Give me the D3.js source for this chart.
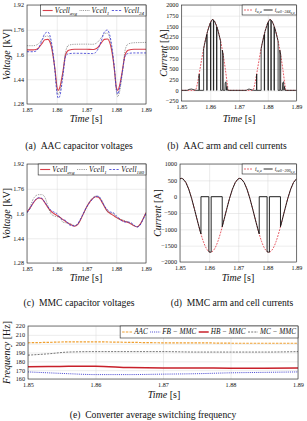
<!DOCTYPE html>
<html>
<head>
<meta charset="utf-8">
<script src="https://cdn.jsdelivr.net/npm/d3@7"></script>
<style>
  body { margin: 0; background: #fff; }
  svg text { font-family: "Liberation Serif", "DejaVu Serif", serif; fill: #111; }
</style>
</head>
<body>
<div class="figure"></div>
<script>
// ---- data ----
const xTicks = [1.85, 1.86, 1.87, 1.88, 1.89];

// (a) AAC capacitor voltages [kV]
const aTime = [1.850, 1.852, 1.853, 1.854, 1.855, 1.856, 1.857, 1.858, 1.859, 1.8595, 1.860, 1.8605, 1.861, 1.862, 1.863, 1.864, 1.866, 1.870,
               1.872, 1.873, 1.874, 1.875, 1.876, 1.877, 1.878, 1.879, 1.8795, 1.880, 1.8805, 1.881, 1.882, 1.883, 1.884, 1.886, 1.890];
const aVavg = [1.630, 1.630, 1.632, 1.645, 1.670, 1.695, 1.698, 1.665, 1.560, 1.490, 1.400, 1.368, 1.385, 1.480, 1.600, 1.628, 1.634, 1.634,
               1.632, 1.636, 1.650, 1.675, 1.698, 1.700, 1.665, 1.560, 1.480, 1.390, 1.368, 1.390, 1.490, 1.600, 1.628, 1.634, 1.634];
const aV1   = [1.657, 1.657, 1.660, 1.672, 1.695, 1.715, 1.720, 1.680, 1.560, 1.480, 1.380, 1.342, 1.360, 1.470, 1.620, 1.660, 1.666, 1.667,
               1.666, 1.670, 1.685, 1.710, 1.735, 1.738, 1.690, 1.570, 1.480, 1.370, 1.328, 1.350, 1.470, 1.630, 1.668, 1.676, 1.678];
const aV24  = [1.618, 1.618, 1.622, 1.645, 1.690, 1.735, 1.745, 1.700, 1.570, 1.470, 1.360, 1.318, 1.330, 1.450, 1.590, 1.605, 1.608, 1.607,
               1.606, 1.612, 1.640, 1.690, 1.745, 1.758, 1.710, 1.580, 1.490, 1.380, 1.345, 1.370, 1.480, 1.590, 1.607, 1.610, 1.610];
const voltTicks = [1.28, 1.44, 1.6, 1.76, 1.92];

// (b) AAC arm and cell currents [A]
const bArm = [[1.850, 0], [1.8548, 0], [1.8555, 150], [1.856, 330], [1.857, 720], [1.858, 1080], [1.859, 1370], [1.860, 1580], [1.8607, 1660],
              [1.8615, 1620], [1.8625, 1450], [1.8635, 1180], [1.8645, 830], [1.8652, 520], [1.866, 120], [1.8663, 0],
              [1.8748, 0], [1.8755, 150], [1.876, 330], [1.877, 720], [1.878, 1080], [1.879, 1370], [1.880, 1580], [1.8807, 1660],
              [1.8815, 1620], [1.8825, 1450], [1.8835, 1180], [1.8845, 830], [1.8852, 520], [1.886, 120], [1.8863, 0], [1.890, 0]];
const bCell = [[1.850, 0], [1.852, 0], [1.8525, 20], [1.8535, 30], [1.8545, 10], [1.855, 0],
               [1.8561, 0], [1.8561, 360], [1.8562, 380], [1.8562, 0],
               [1.8577, 0], [1.8577, 970], [1.858, 1080], [1.8588, 1310], [1.8588, 0], [1.8589, 0], [1.8589, 1330], [1.859, 1370],
               [1.860, 1580], [1.8601, 1590], [1.8601, 0], [1.8602, 0], [1.8602, 1600], [1.8607, 1660], [1.8611, 1650], [1.8611, 0],
               [1.8612, 0], [1.8612, 1640], [1.8615, 1620], [1.8622, 1505], [1.8622, 0], [1.8623, 0], [1.8623, 1480], [1.8625, 1450],
               [1.8635, 1180], [1.8636, 1150], [1.8636, 0],
               [1.8642, 0], [1.8642, 940], [1.8645, 830], [1.8645, 0],
               [1.8651, 0], [1.8652, 180], [1.8655, 200], [1.8656, 0], [1.8658, 90], [1.866, 0],
               [1.8725, 0], [1.873, 20], [1.8735, 30], [1.8745, 10], [1.875, 0],
               [1.8761, 0], [1.8761, 360], [1.8762, 380], [1.8762, 0],
               [1.8777, 0], [1.8777, 970], [1.878, 1080], [1.8788, 1310], [1.8788, 0], [1.8789, 0], [1.8789, 1330], [1.879, 1370],
               [1.880, 1580], [1.8801, 1590], [1.8801, 0], [1.8802, 0], [1.8802, 1600], [1.8807, 1660], [1.8811, 1650], [1.8811, 0],
               [1.8812, 0], [1.8812, 1640], [1.8815, 1620], [1.8822, 1505], [1.8822, 0], [1.8823, 0], [1.8823, 1480], [1.8825, 1450],
               [1.8835, 1180], [1.8836, 1150], [1.8836, 0],
               [1.8842, 0], [1.8842, 940], [1.8845, 830], [1.8845, 0],
               [1.8851, 0], [1.8852, 180], [1.8855, 200], [1.8856, 0], [1.8858, 90], [1.886, 0], [1.890, 0]];
const bTicks = [-250, 0, 250, 500, 750, 1000, 1250, 1500, 1750, 2000];

// (c) MMC capacitor voltages [kV]
const cTime = [1.850, 1.851, 1.852, 1.853, 1.854, 1.855, 1.856, 1.857, 1.858, 1.859, 1.860, 1.861, 1.862, 1.863, 1.864, 1.865, 1.866, 1.867, 1.868, 1.869, 1.870,
               1.871, 1.872, 1.873, 1.874, 1.875, 1.876, 1.877, 1.878, 1.879, 1.880, 1.881, 1.882, 1.883, 1.884, 1.885, 1.886, 1.887, 1.888, 1.889, 1.890];
const cVavg = [1.610, 1.635, 1.665, 1.690, 1.700, 1.695, 1.670, 1.640, 1.615, 1.600, 1.588, 1.576, 1.562, 1.548, 1.535, 1.525, 1.518, 1.528, 1.560, 1.600, 1.640,
               1.672, 1.695, 1.708, 1.705, 1.680, 1.645, 1.615, 1.600, 1.588, 1.575, 1.565, 1.555, 1.548, 1.542, 1.532, 1.520, 1.514, 1.530, 1.565, 1.605];
const cV1   = [1.605, 1.640, 1.690, 1.715, 1.722, 1.722, 1.705, 1.650, 1.600, 1.585, 1.580, 1.578, 1.545, 1.540, 1.538, 1.530, 1.522, 1.530, 1.562, 1.600, 1.640,
               1.675, 1.700, 1.712, 1.710, 1.690, 1.650, 1.612, 1.605, 1.600, 1.578, 1.562, 1.560, 1.552, 1.545, 1.535, 1.522, 1.515, 1.528, 1.565, 1.605];
const cV180 = [1.605, 1.632, 1.668, 1.692, 1.702, 1.698, 1.672, 1.645, 1.622, 1.610, 1.600, 1.575, 1.560, 1.555, 1.530, 1.522, 1.520, 1.532, 1.565, 1.603, 1.640,
               1.670, 1.692, 1.710, 1.712, 1.685, 1.650, 1.625, 1.610, 1.605, 1.585, 1.570, 1.550, 1.545, 1.545, 1.540, 1.525, 1.512, 1.525, 1.560, 1.600];

// (d) MMC arm and cell currents [A]
const dArm = [[1.850, 546], [1.8505, 560], [1.851, 546], [1.852, 437], [1.853, 229], [1.854, -57], [1.855, -394], [1.856, -746], [1.857, -1083],
              [1.858, -1369], [1.859, -1577], [1.860, -1686], [1.8605, -1700], [1.861, -1686], [1.862, -1577], [1.863, -1369], [1.864, -1083],
              [1.865, -746], [1.866, -394], [1.867, -57], [1.868, 229], [1.869, 437], [1.870, 546], [1.8705, 560], [1.871, 546], [1.872, 437],
              [1.873, 229], [1.874, -57], [1.875, -394], [1.876, -746], [1.877, -1083], [1.878, -1369], [1.879, -1577], [1.880, -1686],
              [1.8805, -1700], [1.881, -1686], [1.882, -1577], [1.883, -1369], [1.884, -1083], [1.885, -746], [1.886, -394], [1.887, -57],
              [1.888, 229], [1.889, 437], [1.890, 546]];
const dCell = [[1.850, 546], [1.8505, 560], [1.851, 546], [1.852, 437], [1.853, 229], [1.854, -57], [1.855, -394], [1.856, -746], [1.857, -1083],
               [1.8572, -1140], [1.8572, 0], [1.8599, 0], [1.8599, -1690], [1.8605, -1700], [1.8607, -1698], [1.8607, 0], [1.8645, 0], [1.8645, -920],
               [1.865, -746], [1.866, -394], [1.867, -57], [1.868, 229], [1.869, 437], [1.870, 546], [1.8705, 560], [1.871, 546], [1.872, 437],
               [1.873, 229], [1.874, -57], [1.875, -394], [1.876, -746], [1.877, -1083], [1.8772, -1140], [1.8772, 0], [1.8799, 0], [1.8799, -1690],
               [1.8805, -1700], [1.8807, -1698], [1.8807, 0], [1.8845, 0], [1.8845, -920], [1.885, -746], [1.886, -394], [1.887, -57],
               [1.888, 229], [1.889, 437], [1.890, 546]];
const dTicks = [-2000, -1500, -1000, -500, 0, 500, 1000];

// (e) converter average switching frequency [Hz]
const eTime  = [1.850, 1.853, 1.856, 1.860, 1.865, 1.870, 1.875, 1.880, 1.885, 1.890];
const eAAC   = [201.0, 201.5, 202.0, 202.0, 201.5, 201.0, 201.0, 200.5, 200.5, 200.5];
const eFB    = [168.0, 167.0, 166.0, 165.0, 165.0, 165.5, 166.0, 167.0, 167.5, 168.0];
const eHB    = [174.0, 174.2, 174.3, 174.5, 173.0, 172.5, 172.5, 172.3, 172.3, 172.5];
const eMC    = [187.0, 188.5, 190.5, 191.0, 191.0, 191.0, 190.5, 190.5, 190.5, 191.0];
const eTicks = [160, 170, 180, 190, 200, 210, 220];

// ---- drawing ----
const width = 307;
const height = 421;
const serif = '"Liberation Serif", "DejaVu Serif", serif';
const svg = d3.select('.figure')
    .append('svg')
    .attr('width', width)
    .attr('height', height)
    .attr('font-family', serif);

const zip = (t, v) => t.map((d, i) => [d, v[i]]);

// text made of italic / upright parts with sub and sub-sub scripts
function richText(sel, parts, size) {
  const shifts = [0, size * 0.25, size * 0.42];
  const scale = [1, 0.68, 0.55];
  let level = 0;
  parts.forEach(p => {
    const lv = p.sub || 0;
    sel.append('tspan')
        .attr('dy', shifts[lv] - shifts[level])
        .attr('font-size', size * scale[lv])
        .attr('font-style', p.it ? 'italic' : 'normal')
        .text(p.t);
    level = lv;
  });
}

let clipId = 0;

function drawPanel(cfg) {
  const b = cfg.box;
  const x = d3.scaleLinear().domain([1.85, 1.89]).range([b.x0, b.x1]);
  const y = d3.scaleLinear().domain(cfg.yDomain).range([b.y1, b.y0]);
  const g = svg.append('g');

  // grid lines
  g.append('g')
      .attr('transform', `translate(0,${b.y1})`)
      .call(d3.axisBottom(x).tickValues(xTicks).tickSize(-(b.y1 - b.y0)).tickFormat(''))
      .call(s => s.select('.domain').remove())
      .call(s => s.selectAll('line').attr('stroke', '#d8d8d8').attr('stroke-width', 0.5));
  g.append('g')
      .attr('transform', `translate(${b.x0},0)`)
      .call(d3.axisLeft(y).tickValues(cfg.yTicks).tickSize(-(b.x1 - b.x0)).tickFormat(''))
      .call(s => s.select('.domain').remove())
      .call(s => s.selectAll('line').attr('stroke', '#d8d8d8').attr('stroke-width', 0.5));

  // tick labels
  g.append('g')
      .attr('transform', `translate(0,${b.y1})`)
      .call(d3.axisBottom(x).tickValues(xTicks).tickSize(0).tickPadding(4).tickFormat(d3.format('.2f')))
      .attr('font-family', serif)
      .call(s => s.select('.domain').remove())
      .call(s => s.selectAll('text').attr('font-size', 6.2));
  g.append('g')
      .attr('transform', `translate(${b.x0},0)`)
      .call(d3.axisLeft(y).tickValues(cfg.yTicks).tickSize(0).tickPadding(3).tickFormat(cfg.yFormat))
      .attr('font-family', serif)
      .call(s => s.select('.domain').remove())
      .call(s => s.selectAll('text').attr('font-size', 6.2));

  // series
  clipId += 1;
  g.append('clipPath').attr('id', 'clip' + clipId)
      .append('rect').attr('x', b.x0).attr('y', b.y0).attr('width', b.x1 - b.x0).attr('height', b.y1 - b.y0);
  const plot = g.append('g').attr('clip-path', `url(#clip${clipId})`);
  cfg.series.forEach(s => {
    const line = d3.line()
        .x(d => x(d[0]))
        .y(d => y(d[1]))
        .curve(s.smooth ? d3.curveMonotoneX : d3.curveLinear);
    plot.append('path')
        .attr('d', line(s.data))
        .attr('fill', 'none')
        .attr('stroke', s.color)
        .attr('stroke-width', s.width)
        .attr('stroke-dasharray', s.dash || null);
  });

  // frame
  g.append('rect')
      .attr('x', b.x0).attr('y', b.y0)
      .attr('width', b.x1 - b.x0).attr('height', b.y1 - b.y0)
      .attr('fill', 'none').attr('stroke', '#222').attr('stroke-width', 0.6);

  // axis labels
  const xl = g.append('text')
      .attr('x', cfg.xLabel[0]).attr('y', cfg.xLabel[1])
      .attr('text-anchor', 'middle');
  richText(xl, [{t: 'Time', it: true}, {t: ' [s]'}], 10);
  const yl = g.append('text')
      .attr('transform', `translate(${cfg.yLabel[0]},${(b.y0 + b.y1) / 2}) rotate(-90)`)
      .attr('text-anchor', 'middle');
  richText(yl, cfg.yLabelText, 10);

  // legend, right-aligned in the top corner
  const L = cfg.legend;
  const lg = g.append('g');
  const box = lg.append('rect')
      .attr('fill', '#fff').attr('stroke', '#222').attr('stroke-width', 0.6);
  let cx = L.pad;
  L.items.forEach(it => {
    lg.append('line')
        .attr('x1', cx).attr('x2', cx + L.sample)
        .attr('y1', L.h / 2).attr('y2', L.h / 2)
        .attr('stroke', it.color).attr('stroke-width', it.width)
        .attr('stroke-dasharray', it.dash || null);
    const t = lg.append('text')
        .attr('x', cx + L.sample + 2)
        .attr('y', L.h / 2 + L.size * 0.3);
    richText(t, it.label, L.size);
    cx += L.sample + 2 + t.node().getComputedTextLength() + L.space;
  });
  const bw = cx - L.space + L.pad;
  box.attr('width', bw).attr('height', L.h);
  lg.attr('transform', `translate(${b.x1 - bw},${b.y0})`);
}

const voltFmt = d3.format('~g');
const intFmt = d3.format('d');
const red = '#d8404c';
const grey = '#6a6a6a';
const blue = '#3434d0';

const vcell = sub => [{t: 'Vcell', it: true}, {t: sub, it: true, sub: 1}];

drawPanel({
  box: {x0: 27, x1: 146, y0: 5, y1: 104},
  yDomain: [1.28, 1.92], yTicks: voltTicks, yFormat: voltFmt,
  xLabel: [86, 122], yLabel: [10, 0],
  yLabelText: [{t: 'Voltage', it: true}, {t: ' [kV]'}],
  series: [
    {data: zip(aTime, aVavg), color: red, width: 1.1, smooth: true},
    {data: zip(aTime, aV1), color: grey, width: 0.8, dash: '0.8,1', smooth: true},
    {data: zip(aTime, aV24), color: blue, width: 0.8, dash: '2.2,1.4', smooth: true}
  ],
  legend: {h: 11, size: 7.4, sample: 10, space: 2.5, pad: 2, items: [
    {label: vcell('avg'), color: red, width: 1.1},
    {label: vcell('1'), color: grey, width: 0.8, dash: '0.8,1'},
    {label: vcell('24'), color: blue, width: 0.8, dash: '2.2,1.4'}
  ]}
});

drawPanel({
  box: {x0: 181.5, x1: 296.5, y0: 5, y1: 101},
  yDomain: [-250, 2000], yTicks: bTicks, yFormat: intFmt,
  xLabel: [239, 122], yLabel: [167, 0],
  yLabelText: [{t: 'Current', it: true}, {t: ' [A]'}],
  series: [
    {data: bArm, color: '#e0303c', width: 0.8, dash: '1.8,1.2', smooth: true},
    {data: bCell, color: '#111', width: 0.8}
  ],
  legend: {h: 10, size: 5.8, sample: 9, space: 2, pad: 2, items: [
    {label: [{t: 'i', it: true}, {t: 'u,a', it: true, sub: 1}], color: '#e0303c', width: 0.8, dash: '1.8,1.2'},
    {label: [{t: 'i', it: true}, {t: 'cell−244', it: true, sub: 1}, {t: 'u,a', it: true, sub: 2}], color: '#111', width: 0.9}
  ]}
});

drawPanel({
  box: {x0: 27, x1: 146, y0: 164, y1: 263},
  yDomain: [1.28, 1.92], yTicks: voltTicks, yFormat: voltFmt,
  xLabel: [86, 281], yLabel: [10, 0],
  yLabelText: [{t: 'Voltage', it: true}, {t: ' [kV]'}],
  series: [
    {data: zip(cTime, cVavg), color: red, width: 1.1, smooth: true},
    {data: zip(cTime, cV1), color: grey, width: 0.8, dash: '0.8,1', smooth: true},
    {data: zip(cTime, cV180), color: blue, width: 0.8, dash: '2.2,1.4', smooth: true}
  ],
  legend: {h: 11, size: 7.4, sample: 10, space: 2.5, pad: 2, items: [
    {label: vcell('avg'), color: red, width: 1.1},
    {label: vcell('1'), color: grey, width: 0.8, dash: '0.8,1'},
    {label: vcell('180'), color: blue, width: 0.8, dash: '2.2,1.4'}
  ]}
});

drawPanel({
  box: {x0: 180, x1: 296.5, y0: 164, y1: 262},
  yDomain: [-2000, 1000], yTicks: dTicks, yFormat: intFmt,
  xLabel: [238, 281], yLabel: [161, 0],
  yLabelText: [{t: 'Current', it: true}, {t: ' [A]'}],
  series: [
    {data: dArm, color: '#e0303c', width: 0.8, dash: '1.8,1.2', smooth: true},
    {data: dCell, color: '#111', width: 0.9}
  ],
  legend: {h: 10, size: 5.8, sample: 9, space: 2, pad: 2, items: [
    {label: [{t: 'i', it: true}, {t: 'u,a', it: true, sub: 1}], color: '#e0303c', width: 0.8, dash: '1.8,1.2'},
    {label: [{t: 'i', it: true}, {t: 'cell−200', it: true, sub: 1}, {t: 'u,a', it: true, sub: 2}], color: '#111', width: 0.9}
  ]}
});

drawPanel({
  box: {x0: 28, x1: 298, y0: 326, y1: 379},
  yDomain: [160, 220], yTicks: eTicks, yFormat: intFmt,
  xLabel: [164, 398], yLabel: [10, 0],
  yLabelText: [{t: 'Frequency', it: true}, {t: ' [Hz]'}],
  series: [
    {data: zip(eTime, eAAC), color: '#f0a030', width: 1.2, dash: '2.5,1.2', smooth: true},
    {data: zip(eTime, eFB), color: '#2a2ac8', width: 0.9, dash: '0.9,1', smooth: true},
    {data: zip(eTime, eHB), color: '#c8202a', width: 1.5, smooth: true},
    {data: zip(eTime, eMC), color: '#555', width: 0.8, dash: '2,1.2', smooth: true}
  ],
  legend: {h: 12, size: 7.2, sample: 10, space: 2.5, pad: 2, items: [
    {label: [{t: 'AAC', it: true}], color: '#f0a030', width: 1.2, dash: '2.5,1.2'},
    {label: [{t: 'FB − MMC', it: true}], color: '#2a2ac8', width: 0.9, dash: '0.9,1'},
    {label: [{t: 'HB − MMC', it: true}], color: '#c8202a', width: 1.5},
    {label: [{t: 'MC − MMC', it: true}], color: '#555', width: 0.8, dash: '2,1.2'}
  ]}
});

// sub-figure captions
const captions = [
  {text: '(a)\u2002AAC capacitor voltages', x: 79, y: 149},
  {text: '(b)\u2002AAC arm and cell currents', x: 227, y: 149},
  {text: '(c)\u2002MMC capacitor voltages', x: 79, y: 306},
  {text: '(d)\u2002MMC arm and cell currents', x: 232, y: 306},
  {text: '(e)\u2002Converter average switching frequency', x: 153, y: 418}
];
svg.append('g')
    .selectAll('text')
    .data(captions)
    .enter().append('text')
    .attr('x', d => d.x)
    .attr('y', d => d.y)
    .attr('text-anchor', 'middle')
    .attr('font-size', 9.6)
    .text(d => d.text);
</script>
</body>
</html>
